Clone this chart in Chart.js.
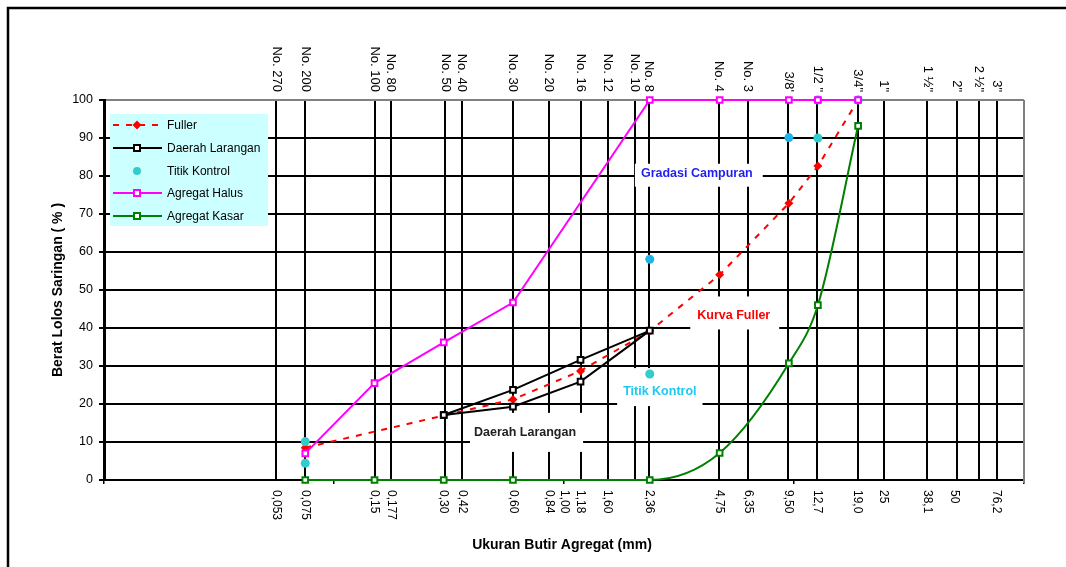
<!DOCTYPE html>
<html>
<head>
<meta charset="utf-8">
<script src="https://cdn.jsdelivr.net/npm/chart.js@4.4.1/dist/chart.umd.min.js"></script>
<style>
  html, body { margin: 0; padding: 0; background: #fff; }
  canvas { display: block; }
</style>
</head>
<body>
<canvas id="gradasi" width="1066" height="567"></canvas>
<script>
// ukuran saringan (mm) untuk agregat halus & kasar
const ukuranAgregat = [0.075, 0.15, 0.30, 0.60, 2.36, 4.75, 9.50, 12.7, 19.0];
const agregatHalus = [7.0, 25.5, 36.2, 46.7, 100, 100, 100, 100, 100];
const agregatKasar = [0, 0, 0, 0, 0, 7.1, 30.7, 46.0, 93.2];

// kurva Fuller
const ukuranFuller = [0.075, 0.60, 1.18, 2.36, 4.75, 9.50, 12.7, 19.0];
const kurvaFuller = [8.5, 21.2, 28.7, 39.2, 54.0, 72.8, 82.6, 100];

// daerah larangan: batas atas lalu kembali lewat batas bawah
const ukuranLarangan = [0.30, 0.60, 1.18, 2.36, 1.18, 0.60, 0.30];
const daerahLarangan = [17.1, 23.7, 31.6, 39.3, 25.9, 19.3, 17.1];

// titik kontrol
const ukuranKontrol = [0.075, 0.075, 2.36, 2.36, 9.50, 12.7, 12.7, 19.0];
const titikKontrol = [10.1, 4.4, 58.1, 27.9, 90.1, 90.0, 100, 100];
const warnaKontrol = ['#33CCCC', '#33CCCC', '#1EB4E8', '#33CCCC', '#1EB4E8', '#33CCCC', '#1EB4E8', '#1EB4E8'];

// garis saringan vertikal + label nomor saringan di atas
const garisSaringan = [0.056, 0.075, 0.15, 0.177, 0.305, 0.36, 0.60, 0.86, 1.18, 1.55, 2.03, 2.34, 4.7, 6.3, 9.45, 12.6, 18.9, 24.5, 38.0, 51.0, 63.5, 76.2];
const labelAtas = ['No. 270', 'No. 200', 'No. 100', 'No. 80', 'No. 50', 'No. 40', 'No. 30', 'No. 20', 'No. 16', 'No. 12', 'No. 10', 'No. 8',
  'No. 4', 'No. 3', "3/8'", '1/2 "', '3/4"', '1"', '1 \u00BD"', '2"', '2 \u00BD"', '3"'];

// label ukuran (mm) di bawah sumbu
const posisiBawah = [0.056, 0.075, 0.15, 0.177, 0.30, 0.36, 0.60, 0.86, 1.00, 1.18, 1.55, 2.36, 4.72, 6.3, 9.45, 12.6, 18.9, 24.5, 38.0, 50.0, 76.0];
const labelBawah = ['0,053', '0,075', '0,15', '0,177', '0,30', '0,42', '0,60', '0,84', '1,00', '1,18', '1,60', '2,36',
  '4,75', '6,35', '9,50', '12,7', '19,0', '25', '38,1', '50', '76,2'];

const tickDekade = [0.01, 0.1, 1, 10, 100];
const tickPersen = [0, 10, 20, 30, 40, 50, 60, 70, 80, 90, 100];

// teks keterangan di dalam grafik (posisi dalam satuan data)
const keterangan = [
    { text: 'Gradasi Campuran', x: 3.78, y: 80.6, color: '#1F1FF0', box: [6, 10, 5, 8] },
    { text: 'Kurva Fuller', x: 5.47, y: 43.3, color: '#FF0000', box: [7, 9, 14, 9] },
    { text: 'Titik Kontrol', x: 2.61, y: 23.4, color: '#1EC8F0', box: [6, 6, 18, 10] },
    { text: 'Daerah Larangan', x: 0.677, y: 12.4, color: '#222222', box: [4, 7, 15, 14] }
];

const FONT = "'Liberation Sans', Arial, sans-serif";

function seri(xs, ys) {
    return xs.map((x, i) => ({ x: x, y: ys[i] }));
}

function tandaLegenda(ctx, ds, x, y) {
    ctx.save();
    if (ds.pointStyle === 'rectRot') {
        const r = 4.5;
        ctx.fillStyle = ds.backgroundColor;
        ctx.beginPath();
        ctx.moveTo(x, y - r); ctx.lineTo(x + r, y); ctx.lineTo(x, y + r); ctx.lineTo(x - r, y);
        ctx.closePath();
        ctx.fill();
    } else if (ds.pointStyle === 'rect') {
        const s = 3;
        ctx.fillStyle = '#fff';
        ctx.strokeStyle = ds.borderColor;
        ctx.lineWidth = 2;
        ctx.fillRect(x - s, y - s, 2 * s, 2 * s);
        ctx.strokeRect(x - s, y - s, 2 * s, 2 * s);
    } else {
        ctx.fillStyle = '#33CCCC';
        ctx.beginPath();
        ctx.arc(x, y, 4, 0, Math.PI * 2);
        ctx.fill();
    }
    ctx.restore();
}

const dekorasiPlugin = {
    id: 'dekorasi',
    beforeDraw: (chart) => {
        const ctx = chart.ctx;
        ctx.save();
        ctx.fillStyle = '#fff';
        ctx.fillRect(0, 0, chart.width, chart.height);
        // bingkai luar grafik (hanya sisi kiri & atas yang terlihat)
        ctx.strokeStyle = '#000';
        ctx.lineWidth = 2.5;
        ctx.beginPath();
        ctx.moveTo(8, chart.height);
        ctx.lineTo(8, 8);
        ctx.lineTo(chart.width, 8);
        ctx.stroke();
        ctx.restore();
    },
    beforeDatasetsDraw: (chart) => {
        const ctx = chart.ctx;
        const area = chart.chartArea;
        const xs = chart.scales.x;
        const ys = chart.scales.y;
        ctx.save();
        // sisi kanan plot berwarna abu-abu
        ctx.strokeStyle = '#808080';
        ctx.lineWidth = 2;
        ctx.beginPath();
        ctx.moveTo(area.right, area.top);
        ctx.lineTo(area.right, area.bottom + 3);
        ctx.stroke();
        // kotak putih di belakang teks keterangan
        ctx.font = 'bold 12.5px ' + FONT;
        keterangan.forEach(k => {
            const cx = xs.getPixelForValue(k.x);
            const cy = ys.getPixelForValue(k.y);
            const w = ctx.measureText(k.text).width;
            ctx.fillStyle = '#fff';
            ctx.fillRect(cx - w / 2 - k.box[0], cy - 5 - k.box[2], w + k.box[0] + k.box[1], 10 + k.box[2] + k.box[3]);
        });
        ctx.restore();
    },
    afterDatasetsDraw: (chart) => {
        const ctx = chart.ctx;
        const area = chart.chartArea;
        const xs = chart.scales.x;
        const ys = chart.scales.y;
        ctx.save();

        // teks keterangan
        ctx.font = 'bold 12.5px ' + FONT;
        ctx.textAlign = 'center';
        ctx.textBaseline = 'middle';
        keterangan.forEach(k => {
            ctx.fillStyle = k.color;
            ctx.fillText(k.text, xs.getPixelForValue(k.x), ys.getPixelForValue(k.y));
        });

        // label nomor saringan (atas), diputar searah jarum jam
        ctx.fillStyle = '#000';
        ctx.font = '13px ' + FONT;
        ctx.textBaseline = 'middle';
        labelAtas.forEach((t, i) => {
            ctx.save();
            ctx.translate(xs.getPixelForValue(garisSaringan[i]), area.top - 8);
            ctx.rotate(Math.PI / 2);
            ctx.textAlign = 'right';
            ctx.fillText(t, 0, 0);
            ctx.restore();
        });

        // label ukuran mm (bawah)
        ctx.font = '12px ' + FONT;
        labelBawah.forEach((t, i) => {
            ctx.save();
            ctx.translate(xs.getPixelForValue(posisiBawah[i]), area.bottom + 10);
            ctx.rotate(Math.PI / 2);
            ctx.textAlign = 'left';
            ctx.fillText(t, 0, 0);
            ctx.restore();
        });

        // judul sumbu
        ctx.font = 'bold 14px ' + FONT;
        ctx.textAlign = 'center';
        ctx.fillText('Ukuran Butir Agregat (mm)', 562, 545);
        ctx.save();
        ctx.translate(58, (area.top + area.bottom) / 2);
        ctx.rotate(-Math.PI / 2);
        ctx.fillText('Berat Lolos Saringan ( % )', 0, 0);
        ctx.restore();

        // legenda
        const lx = 110, ly = 114;
        ctx.fillStyle = '#CCFFFF';
        ctx.fillRect(lx, ly, 158, 112);
        ctx.font = '12px ' + FONT;
        ctx.textAlign = 'left';
        const barisY = [125, 148, 171, 193, 216];
        chart.data.datasets.forEach((ds, i) => {
            const y = barisY[i];
            if (ds.showLine) {
                ctx.save();
                ctx.strokeStyle = ds.borderColor;
                ctx.lineWidth = 2;
                ctx.setLineDash(ds.borderDash || []);
                ctx.beginPath();
                ctx.moveTo(113, y);
                ctx.lineTo(162, y);
                ctx.stroke();
                ctx.restore();
            }
            tandaLegenda(ctx, ds, 137, y);
            ctx.fillStyle = '#000';
            ctx.fillText(ds.label, 167, y + 1);
        });

        ctx.restore();
    }
};

const ctx = document.getElementById('gradasi').getContext('2d');

new Chart(ctx, {
    type: 'scatter',
    data: {
        datasets: [
            {
                label: 'Fuller',
                data: seri(ukuranFuller, kurvaFuller),
                showLine: true,
                borderColor: '#FF0000',
                backgroundColor: '#FF0000',
                borderWidth: 2,
                borderDash: [6, 7],
                pointStyle: 'rectRot',
                pointRadius: 4.5,
                pointBorderWidth: 0,
                clip: false,
                order: 5
            },
            {
                label: 'Daerah Larangan',
                data: seri(ukuranLarangan, daerahLarangan),
                showLine: true,
                borderColor: '#000000',
                backgroundColor: '#FFFFFF',
                borderWidth: 2,
                pointStyle: 'rect',
                pointRadius: 4,
                pointBorderWidth: 2,
                clip: false,
                order: 4
            },
            {
                label: 'Titik Kontrol',
                data: seri(ukuranKontrol, titikKontrol),
                showLine: false,
                borderColor: '#33CCCC',
                backgroundColor: warnaKontrol,
                pointStyle: 'circle',
                pointRadius: 4.5,
                pointBorderWidth: 0,
                clip: false,
                order: 3
            },
            {
                label: 'Agregat Halus',
                data: seri(ukuranAgregat, agregatHalus),
                showLine: true,
                borderColor: '#FF00FF',
                backgroundColor: '#FFFFFF',
                borderWidth: 2,
                pointStyle: 'rect',
                pointRadius: 4,
                pointBorderWidth: 2,
                clip: false,
                order: 2
            },
            {
                label: 'Agregat Kasar',
                data: seri(ukuranAgregat, agregatKasar),
                showLine: true,
                borderColor: '#008000',
                backgroundColor: '#FFFFFF',
                borderWidth: 2,
                cubicInterpolationMode: 'monotone',
                pointStyle: 'rect',
                pointRadius: 4,
                pointBorderWidth: 2,
                clip: false,
                order: 1
            }
        ]
    },
    options: {
        responsive: false,
        animation: false,
        events: [],
        layout: { padding: { top: 100, right: 42, left: 0, bottom: 0 } },
        plugins: {
            legend: { display: false },
            tooltip: { enabled: false }
        },
        scales: {
            x: {
                type: 'logarithmic',
                position: 'bottom',
                min: 0.01,
                max: 100,
                afterBuildTicks: (s) => { s.ticks = tickDekade.map(v => ({ value: v })); },
                afterFit: (s) => { s.height = 87; },
                ticks: { display: false },
                grid: { drawOnChartArea: false, drawTicks: true, tickLength: 4, color: '#000', lineWidth: 1.5 },
                border: { color: '#000', width: 2 }
            },
            xg: {
                type: 'logarithmic',
                position: 'top',
                min: 0.01,
                max: 100,
                afterBuildTicks: (s) => { s.ticks = garisSaringan.map(v => ({ value: v })); },
                afterFit: (s) => { s.height = 0; },
                ticks: { display: false },
                grid: { drawTicks: false, color: '#000', lineWidth: 2 },
                border: { display: false }
            },
            y: {
                min: 0,
                max: 100,
                afterBuildTicks: (s) => { s.ticks = tickPersen.map(v => ({ value: v })); },
                afterFit: (s) => { s.width = 104; },
                ticks: { color: '#000', font: { family: FONT, size: 12.5 }, padding: 6 },
                grid: {
                    color: (c) => (c.tick && c.tick.value === 100 ? '#808080' : '#000'),
                    tickColor: '#000',
                    lineWidth: 2,
                    tickLength: 5
                },
                border: { color: '#000', width: 3 }
            }
        }
    },
    plugins: [dekorasiPlugin]
});
</script>
</body>
</html>
